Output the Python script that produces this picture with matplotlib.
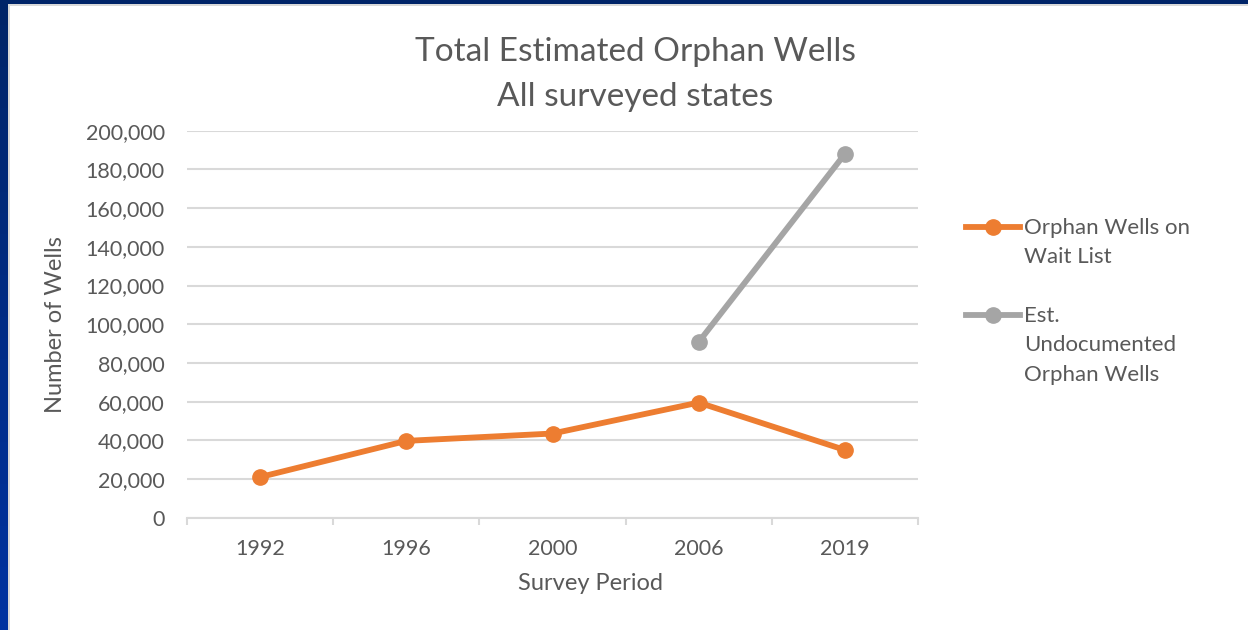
import numpy as np
import matplotlib
matplotlib.use("Agg")
import matplotlib.pyplot as plt
from matplotlib.lines import Line2D
from matplotlib.patches import Rectangle

plt.rcParams['font.family'] = ['Lato', 'DejaVu Sans']

# Data
periods = ["1992", "1996", "2000", "2006", "2019"]
wait_list = [21000, 39700, 43500, 59500, 35000]
undocumented = [np.nan, np.nan, np.nan, 90800, 188000]
y_ticks = list(range(0, 200001, 20000))

orange = "#ED7D31"
gray = "#A5A5A5"
text_col = "#595959"
grid_col = "#D9D9D9"

fig = plt.figure(figsize=(12.48, 6.30), dpi=100)
fig.patch.set_facecolor("white")

# slide frame (dark blue strip top and left, thin gray edge)
def frame_rect(x0, y0, w, h, col, z):
    fig.patches.append(Rectangle((x0/1248, 1 - (y0 + h)/630), w/1248, h/630,
                                 transform=fig.transFigure, facecolor=col,
                                 edgecolor="none", zorder=z))

frame_rect(0, 0, 1248, 6, grid_col, 0)
frame_rect(0, 0, 10, 630, grid_col, 0)
frame_rect(0, 0, 1248, 4, "#002468", 1)
n_steps = 30
for i in range(n_steps):
    c = matplotlib.colors.to_hex(
        np.array(matplotlib.colors.to_rgb("#002468")) * (1 - i/(n_steps - 1))
        + np.array(matplotlib.colors.to_rgb("#0033A0")) * (i/(n_steps - 1)))
    frame_rect(0, 4 + i*626/n_steps, 8, 626/n_steps + 1, c, 1)

ax = fig.add_axes([187/1248, 1 - 517.7/630, (918 - 187)/1248, (517.7 - 130.7)/630])
x = np.arange(len(periods))
ax.plot(x, wait_list, color=orange, lw=4.2, marker="o", ms=11, solid_capstyle="round", zorder=3)
ax.plot(x, undocumented, color=gray, lw=4.2, marker="o", ms=11, solid_capstyle="round", zorder=3)

ax.set_xlim(-0.5, len(periods) - 0.5)
ax.set_ylim(0, 200000)
ax.set_yticks(y_ticks)
ax.set_yticklabels([f"{v:,}" for v in y_ticks])
ax.set_xticks(x)
ax.set_xticklabels(periods)
ax.set_xticks(np.arange(-0.5, len(periods)), minor=True)

ax.yaxis.grid(True, color=grid_col, lw=1.5)
ax.set_axisbelow(True)
for s in ["top", "right", "left"]:
    ax.spines[s].set_visible(False)
ax.spines["bottom"].set_color(grid_col)
ax.spines["bottom"].set_linewidth(1.5)

ax.tick_params(axis="y", length=0, pad=16, labelsize=15.5, labelcolor=text_col)
ax.tick_params(axis="x", which="major", length=0, pad=15, labelsize=15.5, labelcolor=text_col)
ax.tick_params(axis="x", which="minor", length=5, width=1.5, color=grid_col)

ax.set_xlabel("Survey Period", fontsize=17, color=text_col, va="center")
ax.xaxis.set_label_coords((590 - 187)/731, (517.7 - 583)/387)
ax.set_ylabel("Number of Wells", fontsize=17, color=text_col, labelpad=14)

fig.text(635/1248, 1 - 52/630, "Total Estimated Orphan Wells", ha="center", va="center",
         fontsize=24, color=text_col)
fig.text(635/1248, 1 - 97/630, "All surveyed states", ha="center", va="center",
         fontsize=24, color=text_col)

# legend
entries = [(orange, "Orphan Wells on\nWait List", 227),
           (gray, "Est.\nUndocumented\nOrphan Wells", 315)]
for col, label, ypx in entries:
    yf = 1 - ypx/630
    fig.add_artist(Line2D([966/1248, 1020/1248], [yf, yf], color=col, lw=4.2,
                          transform=fig.transFigure))
    fig.add_artist(Line2D([993/1248], [yf], color=col, marker="o", ms=11,
                          transform=fig.transFigure))
    fig.text(1024/1248, yf + 9/630, label, ha="left", va="top", fontsize=16,
             color=text_col, linespacing=1.58)

fig.savefig("out.png", dpi=100)
